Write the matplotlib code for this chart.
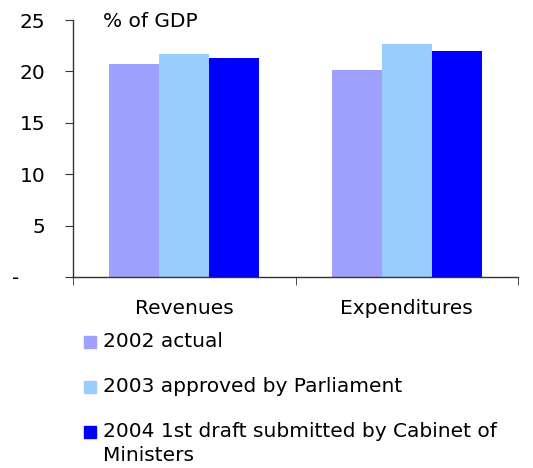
import matplotlib
matplotlib.use("Agg")
import matplotlib.pyplot as plt
from matplotlib.patches import Rectangle
import numpy as np

categories = ["Revenues", "Expenditures"]
series_names = ["2002 actual", "2003 approved by Parliament",
                "2004 1st draft submitted by Cabinet of\nMinisters"]
vals_2002 = [20.7, 20.1]
vals_2003 = [21.7, 22.7]
vals_2004 = [21.3, 22.0]
colors = ["#A0A0FF", "#99CCFF", "#0000FF"]
y_ticks = [0, 5, 10, 15, 20, 25]
y_labels = ["-    ", "5", "10", "15", "20", "25"]

W, H = 533, 468
fs = 14.5
plt.rcParams["font.family"] = "DejaVu Sans"
fig = plt.figure(figsize=(W / 100, H / 100), dpi=100)
ax = fig.add_axes([73 / W, 1 - 277 / H, 445 / W, 257 / H])

x = np.arange(len(categories))
width = 0.225
for i, vals in enumerate([vals_2002, vals_2003, vals_2004]):
    ax.bar(x + (i - 1) * width, vals, width=width, color=colors[i])

ax.set_xlim(-0.5, 1.5)
ax.set_ylim(0, 25)
ax.set_yticks(y_ticks)
ax.set_yticklabels(y_labels, fontsize=fs)
ax.set_xticks(x)
ax.set_xticklabels(categories, fontsize=fs)
ax.set_xticks([-0.5, 0.5, 1.5], minor=True)
ax.tick_params(axis="x", which="major", length=0, pad=16)
ax.tick_params(axis="x", which="minor", length=6, direction="out", color="#333333")
ax.tick_params(axis="y", length=6, direction="out", pad=14, color="#333333")

for s in ["top", "right"]:
    ax.spines[s].set_visible(False)
for s in ["left", "bottom"]:
    ax.spines[s].set_color("#333333")
    ax.spines[s].set_linewidth(1.0)

ax.text(0.067, 0.995, "% of GDP", transform=ax.transAxes, fontsize=fs, va="center", ha="left")

# legend below the plot, handle aligned with the first text line
for i, name in enumerate(series_names):
    yc = 342 + i * 45
    fig.patches.append(Rectangle((84 / W, 1 - (yc + 6) / H), 12 / W, 12 / H,
                                 transform=fig.transFigure, color=colors[i]))
    for k, line in enumerate(name.split("\n")):
        fig.text(103 / W, 1 - (yc + 5 + 24 * k) / H, line, fontsize=fs,
                 va="baseline", ha="left")

fig.savefig("out.png", dpi=100)
